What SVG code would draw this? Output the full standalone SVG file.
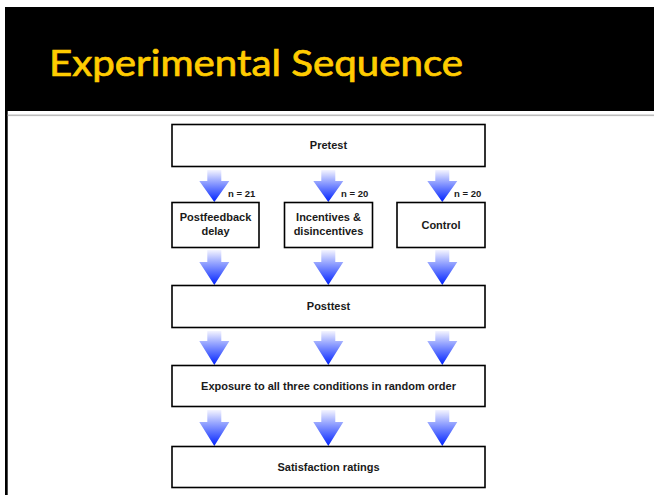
<svg xmlns="http://www.w3.org/2000/svg" width="654" height="495" viewBox="0 0 654 495">
<defs>
<linearGradient id="ag" x1="0" y1="0" x2="0" y2="1">
<stop offset="0" stop-color="#f4f4ff"/>
<stop offset="0.35" stop-color="#9aa8ff"/>
<stop offset="1" stop-color="#0022ff"/>
</linearGradient>
<style>
.box{fill:#fff;stroke:#000;stroke-width:1.6}
.t{font-family:"Liberation Sans",Arial,sans-serif;font-weight:bold;font-size:11px;fill:#1a1a1a;text-anchor:middle}
.n{font-family:"Liberation Sans",Arial,sans-serif;font-weight:bold;font-size:9.5px;fill:#1a1a1a}
.arr{fill:url(#ag)}
</style>
</defs>
<rect width="654" height="495" fill="#fff"/>
<rect x="5" y="7" width="649" height="104" fill="#000"/>
<rect x="5" y="7" width="2.7" height="488" fill="#000"/>
<rect x="7.7" y="114.5" width="646.3" height="1.6" fill="#bcbcbc"/>
<text x="49" y="76" font-family="Lato,'Open Sans',sans-serif" font-size="36" fill="#ffcc00" stroke="#ffcc00" stroke-width="0.7" textLength="414" lengthAdjust="spacingAndGlyphs">Experimental Sequence</text>

<g id="connectors">
<path class="arr" d="M207.3 170 H221.3 V181 H229.3 L214.3 202 L199.3 181 H207.3 Z"/>
<path class="arr" d="M321.3 170 H335.3 V181 H343.3 L328.3 202 L313.3 181 H321.3 Z"/>
<path class="arr" d="M435.3 170 H449.3 V181 H457.3 L442.3 202 L427.3 181 H435.3 Z"/>
<path class="arr" d="M207.3 250 H221.3 V262 H229.3 L214.3 285 L199.3 262 H207.3 Z"/>
<path class="arr" d="M321.3 250 H335.3 V262 H343.3 L328.3 285 L313.3 262 H321.3 Z"/>
<path class="arr" d="M435.3 250 H449.3 V262 H457.3 L442.3 285 L427.3 262 H435.3 Z"/>
<path class="arr" d="M207.3 331 H221.3 V341 H229.3 L214.3 365 L199.3 341 H207.3 Z"/>
<path class="arr" d="M321.3 331 H335.3 V341 H343.3 L328.3 365 L313.3 341 H321.3 Z"/>
<path class="arr" d="M435.3 331 H449.3 V341 H457.3 L442.3 365 L427.3 341 H435.3 Z"/>
<path class="arr" d="M207.3 410 H221.3 V422 H229.3 L214.3 446 L199.3 422 H207.3 Z"/>
<path class="arr" d="M321.3 410 H335.3 V422 H343.3 L328.3 446 L313.3 422 H321.3 Z"/>
<path class="arr" d="M435.3 410 H449.3 V422 H457.3 L442.3 446 L427.3 422 H435.3 Z"/>
<text class="n" x="228" y="197">n = 21</text>
<text class="n" x="341" y="197">n = 20</text>
<text class="n" x="454" y="197">n = 20</text>
</g>

<g id="pretest">
<rect class="box" x="172" y="124.5" width="313" height="42"/>
<text class="t" x="328.5" y="149">Pretest</text>
</g>
<g id="postfeedback">
<rect class="box" x="172" y="202.5" width="87" height="45"/>
<text class="t" x="215.5" y="221">Postfeedback</text>
<text class="t" x="215.5" y="235">delay</text>
</g>
<g id="incentives">
<rect class="box" x="284.5" y="202.5" width="88" height="45"/>
<text class="t" x="328.5" y="221">Incentives &amp;</text>
<text class="t" x="328.5" y="235">disincentives</text>
</g>
<g id="control">
<rect class="box" x="397" y="202.5" width="88" height="45"/>
<text class="t" x="441" y="229">Control</text>
</g>
<g id="posttest">
<rect class="box" x="172" y="285.5" width="313" height="42"/>
<text class="t" x="328.5" y="310">Posttest</text>
</g>
<g id="exposure">
<rect class="box" x="172" y="365.5" width="313" height="41"/>
<text class="t" x="328.5" y="389.5">Exposure to all three conditions in random order</text>
</g>
<g id="satisfaction">
<rect class="box" x="172" y="446.5" width="313" height="41"/>
<text class="t" x="328.5" y="470.5">Satisfaction ratings</text>
</g>
</svg>
